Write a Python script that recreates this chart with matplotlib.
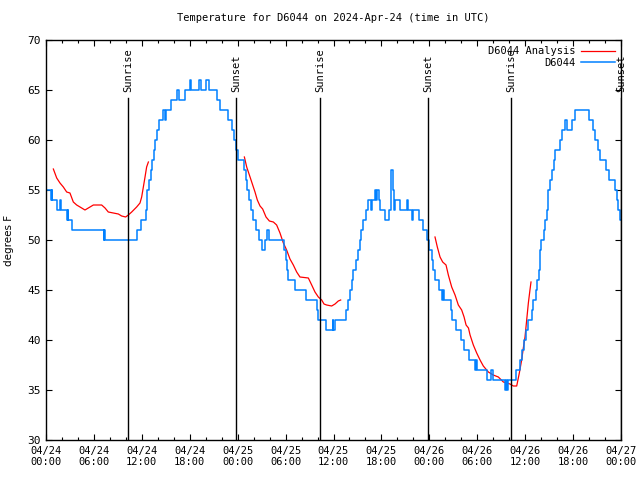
import numpy as np
import matplotlib
matplotlib.use("Agg")
import matplotlib.pyplot as plt
from matplotlib.ticker import MultipleLocator

# hours since 2024-04-24 00:00 UTC
obs_hours = [0.0, 0.6, 0.7, 0.8, 1.4, 1.75, 1.85, 2.6, 2.7, 2.8, 3.2, 7.2, 7.3, 7.4,
             11.4, 11.95, 12.5, 12.6, 12.7, 12.9, 13.1, 13.3, 13.5, 13.7, 13.95, 14.2,
             14.7, 14.85, 15.0, 15.6, 16.35, 16.6, 17.4, 18.05, 18.2, 19.1, 19.35, 20.05,
             20.35, 21.45, 21.8, 22.8, 23.3, 23.55, 23.8, 24.1, 24.8, 25.0, 25.2, 25.4,
             25.65, 25.95, 26.25, 26.7, 27.0, 27.45, 27.65, 27.95, 29.85, 30.0, 30.15,
             30.3, 31.2, 32.6, 33.9, 34.1, 35.05, 35.9, 35.95, 36.15, 37.6, 37.85, 38.05,
             38.3, 38.5, 38.8, 39.1, 39.3, 39.5, 39.7, 40.1, 40.35, 40.75, 40.85, 41.2,
             41.35, 41.5, 41.65, 41.8, 42.45, 42.9, 43.15, 43.25, 43.4, 43.6, 43.75, 44.3,
             45.15, 45.3, 45.8, 46.0, 46.3, 46.7, 47.25, 47.65, 47.9, 48.3, 48.5, 48.7,
             49.2, 49.6, 49.65, 49.8, 50.7, 50.9, 51.4, 52.0, 52.35, 53.0, 53.7, 53.85,
             54.0, 55.2, 55.75, 56.0, 57.45, 57.6, 57.7, 57.8, 58.9, 59.3, 59.6, 59.85,
             60.1, 60.4, 60.8, 61.0, 61.3, 61.5, 61.7, 61.85, 62.0, 62.3, 62.5, 62.7,
             62.9, 63.1, 63.4, 63.6, 63.7, 64.3, 64.55, 64.95, 65.2, 65.85, 66.2, 68.05,
             68.5, 68.8, 69.15, 69.4, 70.1, 70.5, 71.2, 71.45, 71.65, 71.85, 72.0]
obs_temp = [55, 54, 55, 54, 53, 54, 53, 52, 53, 52, 51, 50, 51, 50,
            51, 52, 53, 54, 55, 56, 57, 58, 59, 60, 61, 62,
            63, 62, 63, 64, 65, 64, 65, 66, 65, 66, 65, 66,
            65, 64, 63, 62, 61, 60, 59, 58, 57, 56, 55, 54,
            53, 52, 51, 50, 49, 50, 51, 50, 49, 48, 47,
            46, 45, 44, 43, 42, 41, 42, 41, 42, 43, 44, 45,
            46, 47, 48, 49, 50, 51, 52, 53, 54, 53, 54, 55,
            54, 55, 54, 53, 52, 53, 56, 57, 55, 53, 54, 53,
            54, 53, 52, 53, 53, 52, 51, 50, 49, 48, 47, 46,
            45, 44, 45, 44, 43, 42, 41, 40, 39, 38, 37, 38,
            37, 36, 37, 36, 35, 36, 35, 36, 37, 38, 39, 40,
            41, 42, 43, 44, 45, 46, 47, 49, 50, 51, 52, 53,
            55, 56, 57, 58, 59, 60, 61, 62, 61, 62, 63, 62,
            61, 60, 59, 58, 57, 56, 55, 54, 53, 52, 52]

# analysis, NaN marks gaps between runs
ana_hours = [0.92, 1.34, 1.75, 2.17, 2.59, 3.0, 3.42, 3.84, 4.26, 4.88, 5.51, 5.93,
             6.97, 7.39, 7.8, 8.43, 9.06, 9.47, 9.97, 10.31, 10.73, 11.35, 11.77,
             11.98, 12.19, 12.4, 12.6, 12.82, 13.0,
             24.84, 25.13, 25.55, 25.88, 26.17, 26.46, 26.8, 27.13, 27.55, 27.97,
             28.47, 28.88, 29.3, 29.72, 30.13, 30.55, 30.97, 31.39, 31.8, 32.85,
             33.27, 33.68, 34.1, 34.52, 34.81, 35.14, 35.77, 36.19, 36.6, 36.9, 37.0,
             48.71, 49.0, 49.34, 49.67, 50.09, 50.38, 50.8, 51.22, 51.63, 52.05,
             52.35, 52.6, 52.9, 53.1, 53.51, 53.93, 54.35, 54.76, 55.39, 56.0, 56.64,
             57.27, 58.1, 58.52, 58.94, 59.27, 59.56, 59.77, 59.98, 60.19, 60.4, 60.6,
             60.73]
ana_temp = [57.1, 56.2, 55.7, 55.3, 54.8, 54.7, 53.8, 53.5, 53.3, 53.0, 53.3, 53.5,
            53.5, 53.2, 52.8, 52.7, 52.6, 52.4, 52.3, 52.5, 52.8, 53.3, 53.7,
            54.3, 55.3, 56.3, 57.3, 57.8, np.nan,
            58.3, 57.3, 56.3, 55.5, 54.8, 54.0, 53.4, 53.1, 52.3, 51.9,
            51.8, 51.5, 50.7, 49.7, 49.0, 48.1, 47.5, 46.8, 46.3, 46.2,
            45.5, 44.8, 44.3, 44.0, 43.6, 43.5, 43.4, 43.6, 43.9, 44.0, np.nan,
            50.3, 49.3, 48.3, 47.8, 47.5, 46.5, 45.3, 44.5, 43.5, 43.0,
            42.3, 41.5, 41.2, 40.5, 39.5, 38.7, 38.0, 37.4, 36.8, 36.5, 36.3,
            35.8, 35.6, 35.4, 35.4, 36.7, 38.0, 39.2, 40.3, 42.0, 43.7, 45.0,
            45.8]

sun_hours = [10.27, 23.8, 34.31, 47.83, 58.23, 72.0]
sun_names = ["Sunrise", "Sunset", "Sunrise", "Sunset", "Sunrise", "Sunset"]

tick_hours = [0, 6, 12, 18, 24, 30, 36, 42, 48, 54, 60, 66, 72]
tick_labels = ["04/24\n00:00", "04/24\n06:00", "04/24\n12:00", "04/24\n18:00",
               "04/25\n00:00", "04/25\n06:00", "04/25\n12:00", "04/25\n18:00",
               "04/26\n00:00", "04/26\n06:00", "04/26\n12:00", "04/26\n18:00",
               "04/27\n00:00"]

mono = "DejaVu Sans Mono"

fig = plt.figure(figsize=(6.4, 4.8), dpi=100)
ax = fig.add_axes([46 / 640, 40 / 480, 575 / 640, 400 / 480])

ax.plot(ana_hours, ana_temp, color="#ff0000", lw=0.9, label="D6044 Analysis")
ax.plot(obs_hours, obs_temp, color="#0080ff", lw=1.1, drawstyle="steps-post", label="D6044")

for h, name in zip(sun_hours, sun_names):
    ax.axvline(h, ymin=0, ymax=0.855, color="black", lw=1.0)
    ax.text(h, 64.8, name, rotation=90, ha="center", va="bottom",
            family=mono, fontsize=7.5, clip_on=False)

ax.set_xlim(0, 72)
ax.set_ylim(30, 70)
ax.set_xticks(tick_hours)
ax.set_xticklabels(tick_labels, family=mono, fontsize=7.5)
ax.xaxis.set_minor_locator(MultipleLocator(2))
ax.set_yticks(range(30, 71, 5))
for lab in ax.get_yticklabels():
    lab.set_family(mono)
    lab.set_fontsize(8)
ax.tick_params(which="both", direction="in", top=True, right=True, width=0.8)
ax.tick_params(which="major", length=4)
ax.tick_params(which="minor", length=2.5)
ax.tick_params(axis="x", pad=4)
for s in ax.spines.values():
    s.set_linewidth(1.0)

ax.set_ylabel("degrees F", fontsize=7.5, labelpad=10)
ax.set_title("Temperature for D6044 on 2024-Apr-24 (time in UTC)",
             family=mono, fontsize=7.5, pad=14)

ax.legend(loc="upper right", frameon=False, markerfirst=False,
          prop={"family": mono, "size": 7.5}, handlelength=3.2,
          borderaxespad=0.2, labelspacing=0.15, handletextpad=0.6)

fig.savefig("out.png", dpi=100)
